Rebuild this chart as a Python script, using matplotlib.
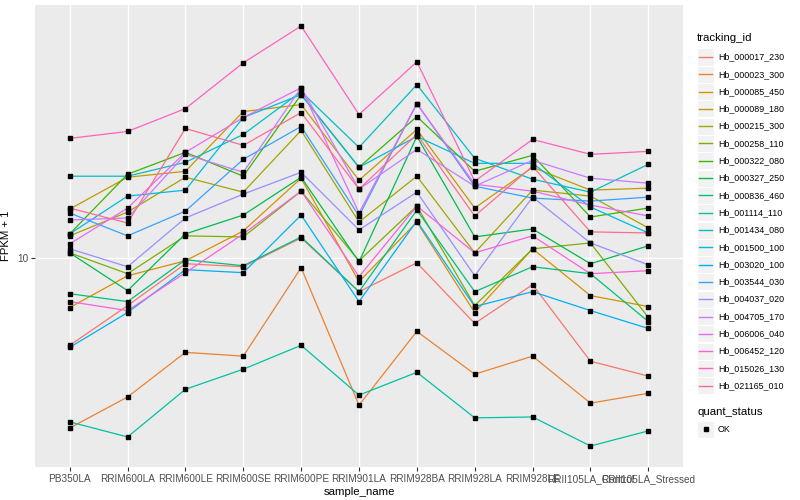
import numpy as np
import matplotlib
matplotlib.use('Agg')
import matplotlib.pyplot as plt
from matplotlib.patches import Rectangle
from matplotlib.lines import Line2D

plt.rcParams['font.family'] = ['Liberation Sans', 'DejaVu Sans']

samples = ['PB350LA', 'RRIM600LA', 'RRIM600LE', 'RRIM600SE', 'RRIM600PE',
           'RRIM901LA', 'RRIM928BA', 'RRIM928LA', 'RRIM928LE',
           'RRII105LA_Control', 'RRII105LA_Stressed']

# FPKM + 1 per sample, one list per gene
Hb_000017_230 = [5.11, 6.94, 9.59, 9.37, 11.70, 7.73, 9.66, 6.05, 8.16, 4.52, 4.03]
Hb_000023_300 = [2.70, 3.43, 4.84, 4.70, 9.30, 3.22, 5.69, 4.09, 4.70, 3.27, 3.53]
Hb_000085_450 = [6.84, 8.74, 9.81, 12.35, 18.55, 8.35, 13.23, 6.58, 10.76, 7.50, 6.89]
Hb_000089_180 = [14.62, 18.69, 19.57, 31.02, 32.73, 18.26, 27.02, 14.74, 20.18, 16.92, 17.18]
Hb_000215_300 = [11.89, 14.29, 18.69, 16.66, 26.82, 13.23, 18.84, 10.43, 16.92, 16.16, 12.64]
Hb_000258_110 = [10.43, 8.88, 11.89, 11.79, 16.79, 9.81, 14.96, 6.94, 10.76, 11.26, 6.34]
Hb_000322_080 = [12.07, 19.13, 22.65, 18.84, 35.34, 20.18, 29.85, 19.57, 22.13, 13.75, 14.74]
Hb_000327_250 = [10.43, 7.79, 12.07, 13.96, 18.69, 9.73, 25.61, 11.79, 12.54, 9.59, 11.01]
Hb_000836_460 = [7.61, 7.16, 9.89, 9.44, 11.79, 7.73, 14.51, 7.73, 9.37, 8.88, 6.14]
Hb_001114_110 = [2.83, 2.52, 3.64, 4.25, 5.11, 3.48, 4.15, 2.92, 2.94, 2.35, 2.64]
Hb_001434_080 = [18.84, 18.84, 20.97, 26.0, 36.17, 23.53, 38.17, 21.63, 18.41, 16.66, 20.65]
Hb_001500_100 = [12.07, 16.16, 16.92, 29.63, 35.35, 20.18, 25.61, 20.81, 20.81, 14.85, 12.16]
Hb_003020_100 = [5.03, 6.58, 9.16, 8.95, 13.96, 7.16, 13.34, 6.89, 7.73, 6.68, 5.82]
Hb_003544_030 = [14.18, 11.89, 14.4, 21.46, 27.65, 13.86, 32.99, 17.44, 15.91, 15.55, 16.03]
Hb_004037_020 = [10.76, 9.37, 13.65, 16.41, 19.42, 12.45, 16.66, 8.74, 16.03, 11.26, 9.51]
Hb_004705_170 = [13.44, 13.65, 22.3, 19.42, 37.3, 17.05, 23.17, 17.44, 21.3, 18.55, 17.85]
Hb_006006_040 = [11.18, 14.73, 22.65, 29.63, 37.3, 14.18, 32.99, 17.71, 16.79, 15.08, 13.86]
Hb_006452_120 = [7.16, 6.68, 8.95, 12.07, 16.79, 8.68, 14.96, 10.43, 11.89, 8.88, 9.09]
Hb_015026_130 = [25.22, 26.61, 31.74, 45.19, 60.03, 30.32, 45.53, 18.13, 25.02, 22.3, 22.82]
Hb_021165_010 = [14.73, 13.13, 27.23, 23.9, 30.78, 17.05, 26.0, 13.86, 20.34, 12.26, 12.16]

genes = ['Hb_000017_230', 'Hb_000023_300', 'Hb_000085_450', 'Hb_000089_180',
         'Hb_000215_300', 'Hb_000258_110', 'Hb_000322_080', 'Hb_000327_250',
         'Hb_000836_460', 'Hb_001114_110', 'Hb_001434_080', 'Hb_001500_100',
         'Hb_003020_100', 'Hb_003544_030', 'Hb_004037_020', 'Hb_004705_170',
         'Hb_006006_040', 'Hb_006452_120', 'Hb_015026_130', 'Hb_021165_010']
series = [Hb_000017_230, Hb_000023_300, Hb_000085_450, Hb_000089_180,
          Hb_000215_300, Hb_000258_110, Hb_000322_080, Hb_000327_250,
          Hb_000836_460, Hb_001114_110, Hb_001434_080, Hb_001500_100,
          Hb_003020_100, Hb_003544_030, Hb_004037_020, Hb_004705_170,
          Hb_006006_040, Hb_006452_120, Hb_015026_130, Hb_021165_010]

# ggplot2 hue palette for 20 levels
colors = ['#F8766D', '#EA8331', '#D89000', '#C09B00', '#A3A500', '#7CAE00',
          '#39B600', '#00BB4E', '#00BF7D', '#00C1A3', '#00BFC4', '#00BAE0',
          '#00B0F6', '#35A2FF', '#9590FF', '#C77CFF', '#E76BF3', '#FA62DB',
          '#FF62BC', '#FF6C91']

W, H = 800, 500


def fx(x):
    return x / W


def fy(y):
    return 1 - y / H


fig = plt.figure(figsize=(8, 5), dpi=100)
ax = fig.add_axes([fx(35), fy(467), fx(648), 462 / H])
ax.set_facecolor('#EBEBEB')
for s in ax.spines.values():
    s.set_visible(False)

x = np.arange(len(samples))
for vals, col in zip(series, colors):
    ax.plot(x, vals, color=col, lw=0.9, zorder=2)
for vals in series:
    ax.plot(x, vals, ls='none', marker='s', ms=2.9, color='black', zorder=3)

ax.set_yscale('log')
lo = np.log10(min(min(v) for v in series))
hi = np.log10(max(max(v) for v in series))
pad = 0.05 * (hi - lo)
ax.set_ylim(10 ** (lo - pad), 10 ** (hi + pad))
ax.set_xlim(-0.6, len(samples) - 0.4)

ax.set_yticks([10])
ax.set_yticklabels(['10'])
ax.yaxis.set_minor_locator(matplotlib.ticker.NullLocator())
ax.set_xticks(x)
ax.set_xticklabels(samples)
ax.tick_params(axis='both', length=3, width=0.8, color='#333333',
               labelcolor='#4D4D4D', labelsize=7.2, pad=2)
ax.grid(True, color='white', lw=1.0, zorder=0)
ax.set_axisbelow(True)

ax.set_xlabel('sample_name', fontsize=8.2, labelpad=2)
ax.set_ylabel('FPKM + 1', fontsize=8.2, labelpad=4)

# legend, drawn in ggplot style
fig.text(fx(697), fy(38), 'tracking_id', fontsize=8.2, va='center', ha='left')
for i, (g, col) in enumerate(zip(genes, colors)):
    yc = 57 + 17.3 * i
    fig.add_artist(Rectangle((fx(697), fy(yc + 8.5)), 17 / W, 17 / H,
                             transform=fig.transFigure, facecolor='#F2F2F2',
                             edgecolor='white', lw=0.8))
    fig.add_artist(Line2D([fx(699), fx(712)], [fy(yc), fy(yc)],
                          transform=fig.transFigure, color=col, lw=1.0))
    fig.text(fx(718), fy(yc), g, fontsize=6.4, va='center', ha='left')

fig.text(fx(697), fy(412), 'quant_status', fontsize=8.2, va='center', ha='left')
fig.add_artist(Rectangle((fx(697), fy(429 + 8.5)), 17 / W, 17 / H,
                         transform=fig.transFigure, facecolor='#F2F2F2',
                         edgecolor='white', lw=0.8))
fig.add_artist(Line2D([fx(705.5)], [fy(429)], transform=fig.transFigure,
                      ls='none', marker='s', ms=2.9, color='black'))
fig.text(fx(718), fy(429), 'OK', fontsize=6.4, va='center', ha='left')

fig.savefig('out.png', dpi=100)
